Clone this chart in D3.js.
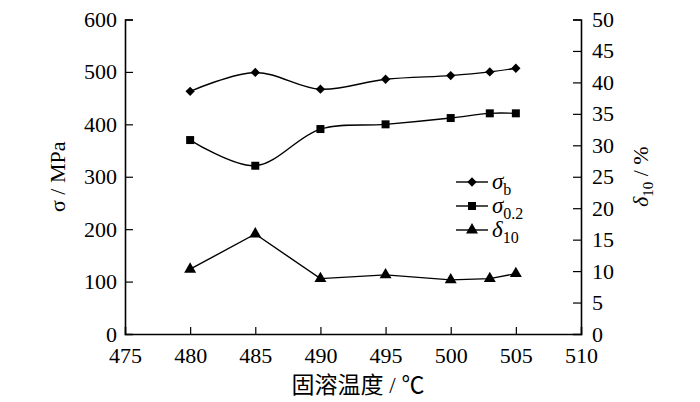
<!DOCTYPE html>
<html>
<head>
<meta charset="utf-8">
<script src="https://cdn.jsdelivr.net/npm/d3@7"></script>
<style>
  body { margin: 0; background: #fff; }
</style>
</head>
<body>
<svg id="chart" width="700" height="402"></svg>
<script>
// data
const temps = [480, 485, 490, 495, 500, 503, 505]
const sigmaB = [463, 499, 467, 486, 493, 500, 507]
const sigma02 = [370, 321, 391, 400, 412, 421, 421]
const delta10 = [10.3, 15.9, 8.8, 9.4, 8.6, 8.8, 9.6]

const xTicks = [475, 480, 485, 490, 495, 500, 505, 510]
const yTicks = [0, 100, 200, 300, 400, 500, 600]
const y2Ticks = [0, 5, 10, 15, 20, 25, 30, 35, 40, 45, 50]

const serif = '"Liberation Serif", "Times New Roman", "Noto Sans CJK SC", serif'

const svg = d3.select('#chart')
const plotL = 125, plotR = 581, plotT = 19.5, plotB = 334

const x = d3.scaleLinear().domain([475, 510]).range([plotL, plotR])
const y = d3.scaleLinear().domain([0, 600]).range([plotB, plotT])
const y2 = d3.scaleLinear().domain([0, 50]).range([plotB, plotT])

// axes - ticks point inward
const xAxis = svg.append('g').attr('transform', `translate(0,${plotB})`)
  .call(d3.axisBottom(x).tickValues(xTicks).tickSize(-7).tickPadding(13).tickFormat(d3.format('d')))
const yAxis = svg.append('g').attr('transform', `translate(${plotL},0)`)
  .call(d3.axisLeft(y).tickValues(yTicks).tickSize(-8).tickPadding(8))
const y2Axis = svg.append('g').attr('transform', `translate(${plotR},0)`)
  .call(d3.axisRight(y2).tickValues(y2Ticks).tickSize(-8).tickPadding(11))

for (const g of [xAxis, yAxis, y2Axis]) {
  g.attr('font-family', null).attr('font-size', null)
  g.select('.domain').attr('stroke', '#000').attr('stroke-width', 1.6)
  g.selectAll('.tick line').attr('stroke', '#000').attr('stroke-width', 1.2)
  g.selectAll('.tick text').style('font-family', serif).style('font-size', '22px').attr('fill', '#000')
}
// drop the tick lines that would sit on the frame corners
xAxis.selectAll('.tick').filter(d => d === 475 || d === 510).select('line').remove()
yAxis.selectAll('.tick').filter(d => d === 0).select('line').remove()
y2Axis.selectAll('.tick').filter(d => d === 0).select('line').remove()

// axis titles
svg.append('text')
  .attr('transform', `translate(65,${(plotT + plotB) / 2}) rotate(-90)`)
  .attr('text-anchor', 'middle')
  .style('font-family', serif).style('font-size', '22px')
  .text('σ / MPa')

const r = svg.append('text')
  .attr('transform', `translate(648,${(plotT + plotB) / 2}) rotate(-90)`)
  .attr('text-anchor', 'middle')
  .style('font-family', serif).style('font-size', '22px')
r.append('tspan').style('font-style', 'italic').text('δ')
r.append('tspan').attr('dy', 5).style('font-size', '15px').text('10')
r.append('tspan').attr('dy', -5).text(' / %')

svg.append('text')
  .attr('x', 358).attr('y', 393)
  .attr('text-anchor', 'middle')
  .style('font-family', serif).style('font-size', '23px')
  .text('固溶温度 / ℃')

// lines
const smooth = d3.line().x((d, i) => x(temps[i])).curve(d3.curveCatmullRom.alpha(0.5))
const straight = d3.line().x((d, i) => x(temps[i]))

svg.append('path').attr('d', smooth.y(d => y(d))(sigmaB))
  .attr('fill', 'none').attr('stroke', '#000').attr('stroke-width', 1.4)
svg.append('path').attr('d', smooth.y(d => y(d))(sigma02))
  .attr('fill', 'none').attr('stroke', '#000').attr('stroke-width', 1.4)
svg.append('path').attr('d', straight.y(d => y2(d))(delta10))
  .attr('fill', 'none').attr('stroke', '#000').attr('stroke-width', 1.4)

const diamond = d3.symbol().type(d3.symbolDiamond2).size(55)
const square = d3.symbol().type(d3.symbolSquare).size(64)
const triangle = d3.symbol().type(d3.symbolTriangle).size(62)

function markers(vals, sc, sym) {
  svg.append('g').selectAll('path').data(vals).join('path')
    .attr('transform', (d, i) => `translate(${x(temps[i])},${sc(d)})`)
    .attr('d', sym()).attr('fill', '#000')
}
markers(sigmaB, y, diamond)
markers(sigma02, y, square)
markers(delta10, y2, triangle)

// legend
const legendRows = [
  { sym: diamond, name: 'σ', sub: 'b' },
  { sym: square, name: 'σ', sub: '0.2' },
  { sym: triangle, name: 'δ', sub: '10' }
]
const lg = svg.append('g').selectAll('g').data(legendRows).join('g')
  .attr('transform', (d, i) => `translate(456,${182 + i * 24})`)
lg.append('line').attr('x1', 0).attr('x2', 32).attr('stroke', '#000').attr('stroke-width', 1.4)
lg.append('path').attr('transform', 'translate(16,0)').attr('d', d => d.sym()).attr('fill', '#000')
const lt = lg.append('text').attr('x', 36).attr('y', 7)
  .style('font-family', serif).style('font-size', '23px')
lt.append('tspan').style('font-style', 'italic').text(d => d.name)
lt.append('tspan').attr('dy', 6).style('font-size', '16px').text(d => d.sub)
</script>
</body>
</html>
